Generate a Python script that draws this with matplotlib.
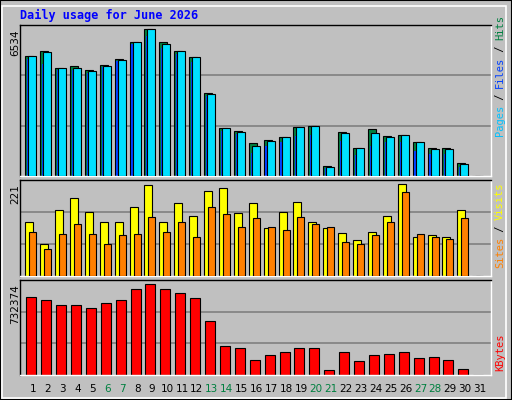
import matplotlib
matplotlib.use("Agg")
import matplotlib.pyplot as plt
from matplotlib.patches import Rectangle

days = list(range(1, 32))
hits = [5346,5569,4811,4900,4722,4945,5212,5970,6534,5970,5569,5301,3698,2138,2005,1470,1604,1737,2183,2228,446,1960,1247,2094,1782,1827,1515,1247,1247,579,0]
pages = [5346,5524,4811,4811,4678,4900,5168,5970,6534,5881,5569,5301,3653,2138,1960,1337,1559,1737,2183,2228,401,1916,1247,1916,1737,1827,1515,1203,1203,535,0]
files = [5212,4990,4722,4722,4589,4856,5123,5881,6237,5702,5435,5079,3564,2005,1871,1025,1337,1515,1782,1827,356,1559,936,1337,1515,1515,1114,980,980,401,0]
visits = [131,76,159,187,154,129,129,166,219,129,175,144,204,211,151,175,115,154,178,131,115,103,86,107,144,221,95,98,94,159,0]
sites = [105,66,102,126,100,78,98,100,143,105,129,95,167,148,119,139,119,110,141,124,119,83,78,98,129,202,102,93,90,139,0]
kbytes = [627800,603700,563400,563400,539300,579500,603700,692200,732374,692200,660000,619800,434600,233400,217300,120700,161000,185100,217300,217300,40200,185100,112700,161000,169000,185100,136800,144900,120700,48300,0]
weekends = [6,7,13,14,20,21,27,28]

W, H = 512, 400
fig = plt.figure(figsize=(W/100, H/100), dpi=100, facecolor="#c0c0c0")
fig.patches.append(Rectangle((0, 0), 1, 1, transform=fig.transFigure, fill=False, ec="black", lw=1.5))
fig.patches.append(Rectangle((2/W, 2/H), (W-8)/W, (H-8)/H, transform=fig.transFigure, fill=False, ec="white", lw=1.2))

def mkax(top, bot):
    ax = fig.add_axes([20/W, 1-bot/H, 470.7/W, (bot-top)/H])
    ax.set_facecolor("#c0c0c0")
    ax.set_xlim(0.128, 31.72)
    ax.set_xticks([]); ax.set_yticks([])
    for s in ax.spines.values():
        s.set_color("black"); s.set_linewidth(1)
    ax.spines["right"].set_color("white"); ax.spines["bottom"].set_color("white")
    return ax

def grid(ax, top):
    for f in (1/3, 2/3):
        ax.axhline(top*f, color="#808080", lw=1.2, zorder=0)

ax1 = mkax(25, 176)
t1 = 6726; ax1.set_ylim(0, t1); grid(ax1, t1)
ax1.bar([d-0.52 for d in days], hits, width=0.54, align="edge", color="#008040", ec="black", lw=0.8, zorder=2)
ax1.bar([d-0.32 for d in days], pages, width=0.54, align="edge", color="#00e0ff", ec="black", lw=0.8, zorder=3)
ax1.bar([d-0.40 for d in days], files, width=0.13, align="edge", color="#0040ff", ec="none", zorder=2.5)

ax2 = mkax(180, 276)
t2 = 231; ax2.set_ylim(0, t2); grid(ax2, t2)
ax2.bar([d-0.52 for d in days], visits, width=0.54, align="edge", color="#ffff00", ec="black", lw=0.8, zorder=2)
ax2.bar([d-0.25 for d in days], sites, width=0.47, align="edge", color="#ff8000", ec="black", lw=0.8, zorder=3)

ax3 = mkax(280, 375)
t3 = 767000; ax3.set_ylim(0, t3); grid(ax3, t3)
ax3.bar([d-0.45 for d in days], kbytes, width=0.67, align="edge", color="#ff0000", ec="black", lw=0.8, zorder=2)

fig.text(20/W, 1-15/H, "Daily usage for June 2026", color="#0000ff", fontsize=8.5,
         fontweight="bold", family="DejaVu Sans Mono", va="center", ha="left")

for ytop, lab in [(29, "6534"), (184, "221"), (284, "732374")]:
    fig.text(15/W, 1-ytop/H, lab, rotation=90, fontsize=7.5, ha="center", va="top", color="black")

for d in days:
    x = ax3.transData.transform((d, 0))[0]
    fig.text(x/(W), 1-389/H, str(d), fontsize=7.5, ha="center", va="center",
             color="#008040" if d in weekends else "black")

def vlabel(y0, parts):
    y = y0
    for txt, c in parts:
        t = fig.text(500/W, y/H, txt, rotation=90, fontsize=7.5, family="DejaVu Sans Mono",
                     color=c, ha="center", va="bottom")
        y += len(txt) * 6.0
vlabel(400-176+40, [("Pages", "#00c0ff"), (" / ", "black"), ("Files", "#0040ff"), (" / ", "black"), ("Hits", "#008040")])
vlabel(400-276+8, [("Sites", "#ff8000"), (" / ", "black"), ("Visits", "#ffff00")])
vlabel(400-376+5, [("KBytes", "#ff0000")])

fig.savefig("out.png", dpi=100, facecolor=fig.get_facecolor())
